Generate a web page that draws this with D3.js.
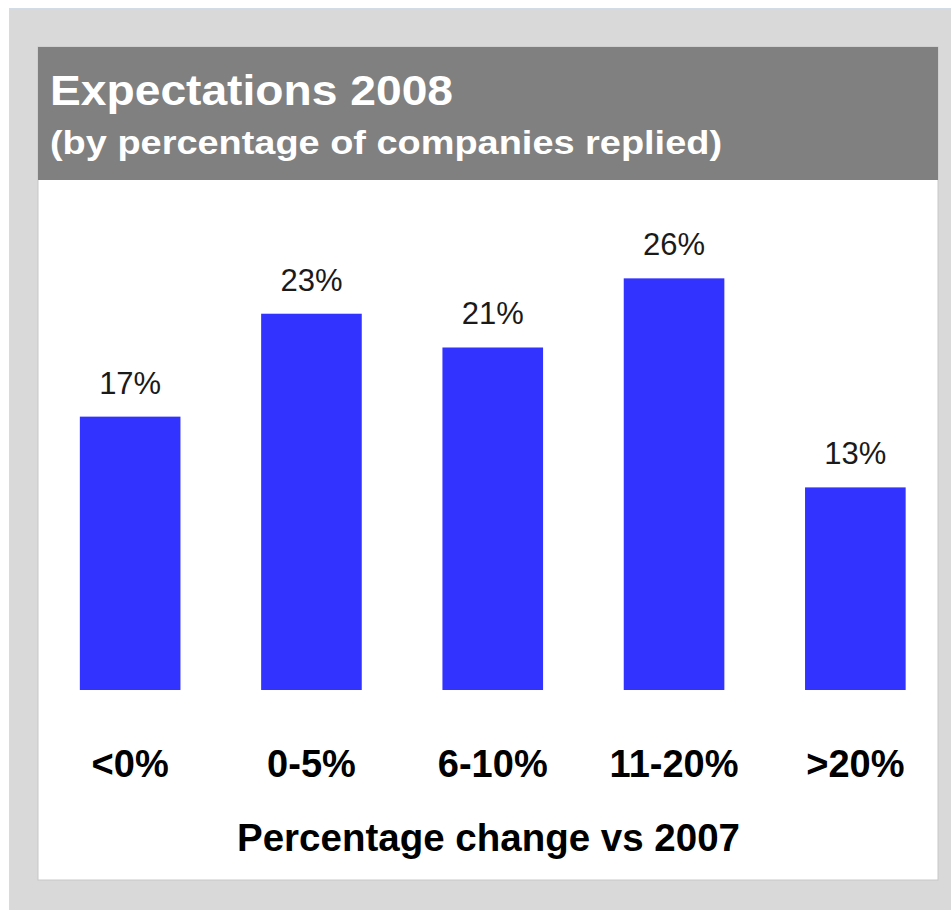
<!DOCTYPE html>
<html>
<head>
<meta charset="utf-8">
<script src="https://cdn.jsdelivr.net/npm/d3@7"></script>
<style>
  body { margin: 0; background: #fff; }
  svg { display: block; }
</style>
</head>
<body>
<svg id="chart" width="951" height="910"></svg>
<script>
// data
var categories = ["<0%", "0-5%", "6-10%", "11-20%", ">20%"];
var values = [17.0, 23.4, 21.3, 25.6, 12.6];
var title = "Expectations 2008";
var subtitle = "(by percentage of companies replied)";
var xTitle = "Percentage change vs 2007";

var svg = d3.select("#chart");

// outer frame
svg.append("rect")
    .attr("x", 9).attr("y", 8)
    .attr("width", 942).attr("height", 902)
    .attr("fill", "#d9d9d9");
svg.append("line")
    .attr("x1", 9).attr("x2", 951).attr("y1", 8.5).attr("y2", 8.5)
    .attr("stroke", "#d3dbe6");
svg.append("line")
    .attr("x1", 9.5).attr("x2", 9.5).attr("y1", 8).attr("y2", 910)
    .attr("stroke", "#d3dbe6");

// white panel
svg.append("rect")
    .attr("x", 38).attr("y", 47)
    .attr("width", 900).attr("height", 833)
    .attr("fill", "#fff")
    .attr("stroke", "#c8c8c8");

// title bar
svg.append("rect")
    .attr("x", 38).attr("y", 47)
    .attr("width", 900).attr("height", 133)
    .attr("fill", "#808080");

svg.append("text")
    .attr("x", 50).attr("y", 105)
    .attr("font-family", "Liberation Sans, Arial, sans-serif")
    .attr("font-weight", "bold")
    .attr("font-size", 42)
    .attr("fill", "#fff")
    .attr("textLength", 403)
    .attr("lengthAdjust", "spacingAndGlyphs")
    .text(title);

svg.append("text")
    .attr("x", 50).attr("y", 154)
    .attr("font-family", "Liberation Sans, Arial, sans-serif")
    .attr("font-weight", "bold")
    .attr("font-size", 34)
    .attr("fill", "#fff")
    .attr("textLength", 672)
    .attr("lengthAdjust", "spacingAndGlyphs")
    .text(subtitle);

// scales
var x = d3.scaleBand()
    .domain(categories)
    .range([39.5, 946])
    .paddingInner(0.445)
    .paddingOuter(0.2225);

var y = d3.scaleLinear()
    .domain([0, 30])
    .range([690, 690 - 30 * 16.08]);

var fmt = d3.format(".0f");

var g = svg.append("g");

g.selectAll("rect.bar")
  .data(values)
  .enter().append("rect")
    .attr("class", "bar")
    .attr("x", function(d, i) { return x(categories[i]); })
    .attr("y", function(d) { return y(d); })
    .attr("width", x.bandwidth())
    .attr("height", function(d) { return y(0) - y(d); })
    .attr("fill", "#3333ff");

g.selectAll("text.val")
  .data(values)
  .enter().append("text")
    .attr("class", "val")
    .attr("x", function(d, i) { return x(categories[i]) + x.bandwidth() / 2; })
    .attr("y", function(d) { return y(d) - 23; })
    .attr("text-anchor", "middle")
    .attr("font-family", "Liberation Sans, Arial, sans-serif")
    .attr("font-size", 31)
    .attr("fill", "#1a1a1a")
    .text(function(d) { return fmt(d) + "%"; });

// x axis labels
var xAxis = svg.append("g")
    .attr("transform", "translate(0,750)")
    .call(d3.axisBottom(x).tickSize(0).tickPadding(0));
xAxis.select(".domain").remove();
xAxis.selectAll("text")
    .attr("dy", null)
    .attr("y", 27)
    .attr("font-family", "Liberation Sans, Arial, sans-serif")
    .attr("font-weight", "bold")
    .attr("font-size", 38)
    .attr("fill", "#000");

svg.append("text")
    .attr("x", 488.5).attr("y", 851)
    .attr("text-anchor", "middle")
    .attr("font-family", "Liberation Sans, Arial, sans-serif")
    .attr("font-weight", "bold")
    .attr("font-size", 38.5)
    .attr("fill", "#000")
    .text(xTitle);
</script>
</body>
</html>
